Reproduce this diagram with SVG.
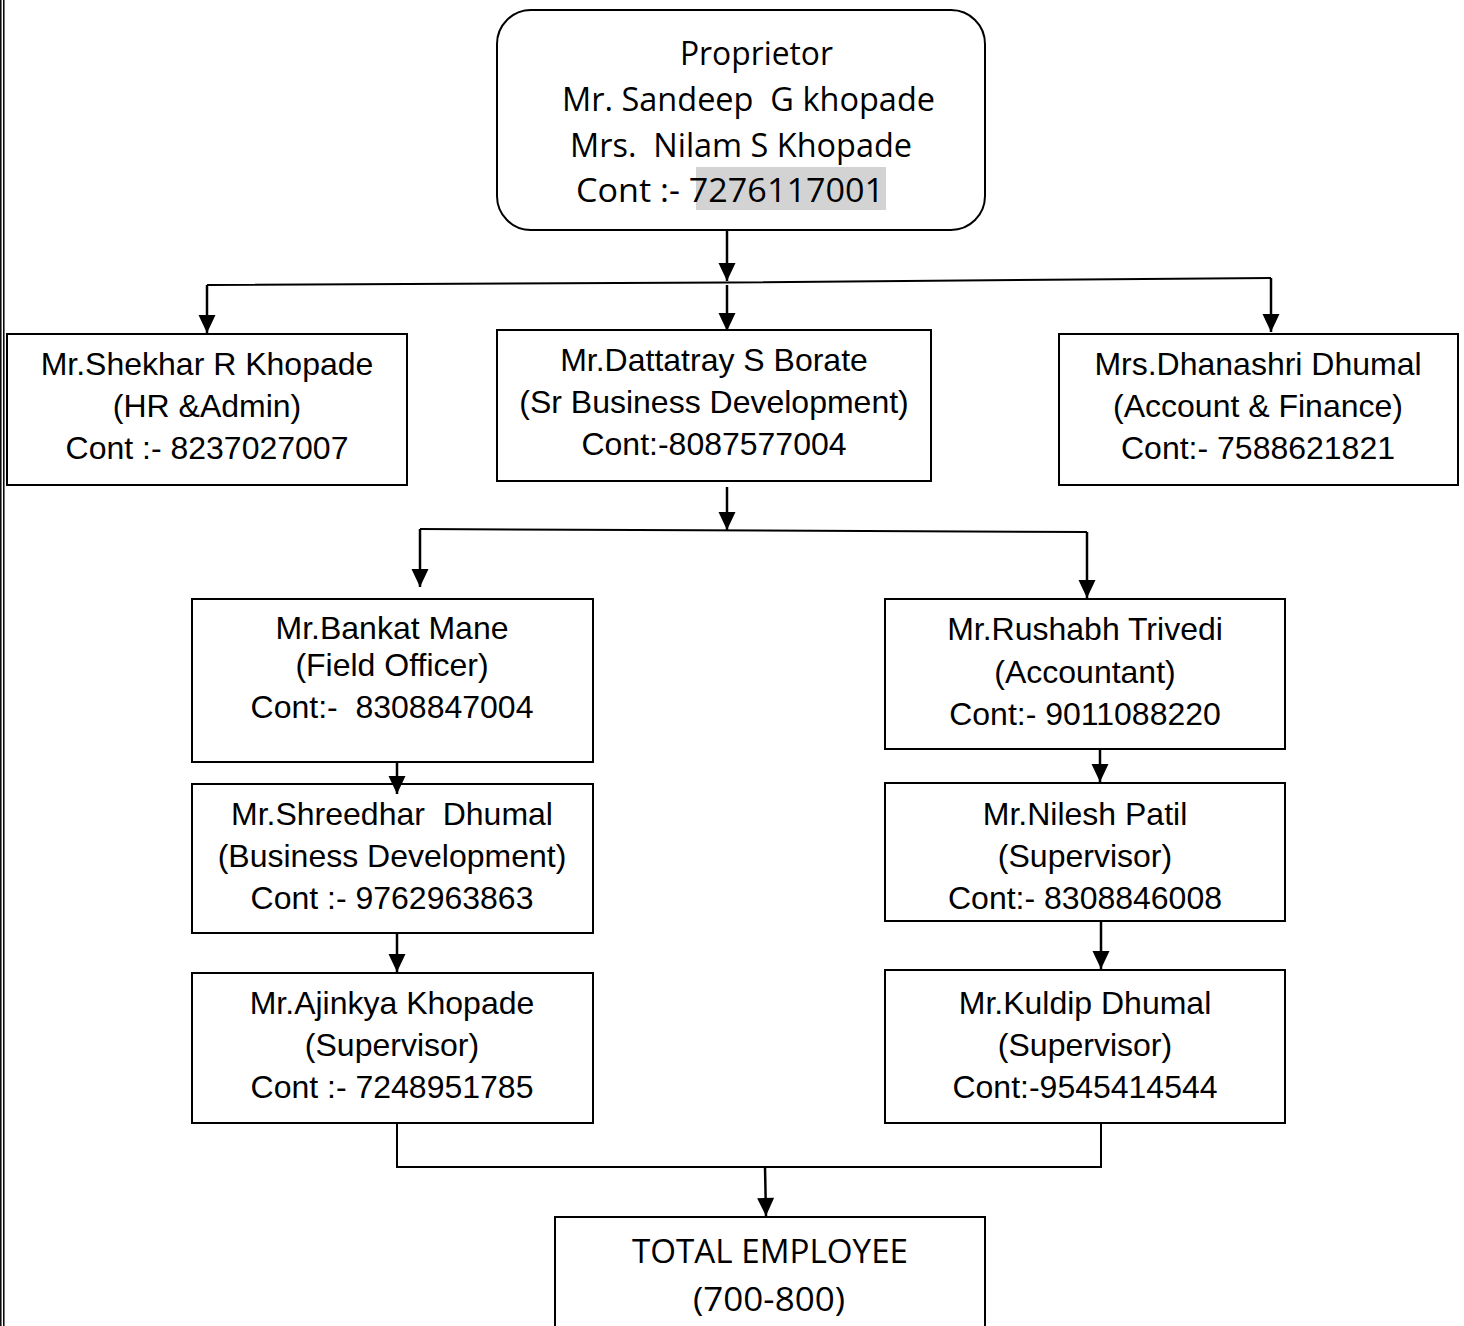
<svg xmlns="http://www.w3.org/2000/svg" width="1464" height="1326" viewBox="0 0 1464 1326">
<style>
.box{fill:#fff;stroke:#000;stroke-width:2}
.t{font-family:"Liberation Sans",Arial,sans-serif;font-size:32px;fill:#000;text-anchor:middle}
.c{font-family:"Open Sans","Noto Sans",sans-serif;font-size:33px;fill:#000}
.ln{fill:none;stroke:#000;stroke-width:2}
.ar{fill:none;stroke:#000;stroke-width:2.5;marker-end:url(#ah)}
</style>
<defs>
<marker id="ah" markerUnits="userSpaceOnUse" markerWidth="19" markerHeight="17" refX="18" refY="8.5" orient="auto" overflow="visible">
<path d="M0,0 L18,8.5 L0,17 z" fill="#000"/>
</marker>
</defs>
<rect width="1464" height="1326" fill="#fff"/>
<g id="page-border">
<line x1="0.8" y1="0" x2="0.8" y2="1326" stroke="#000" stroke-width="1.5"/>
<line x1="3.8" y1="0" x2="3.8" y2="1326" stroke="#000" stroke-width="1.5"/>
</g>
<g id="proprietor">
<rect class="box" x="497" y="10" width="488" height="220" rx="34"/>
<rect x="696" y="167" width="190" height="43" fill="#d3d3d3"/>
<text class="c" x="680" y="65" textLength="153" lengthAdjust="spacingAndGlyphs">Proprietor</text>
<text class="c" x="562" y="111" textLength="373" lengthAdjust="spacingAndGlyphs" xml:space="preserve">Mr. Sandeep  G khopade</text>
<text class="c" x="570" y="157" textLength="342" lengthAdjust="spacingAndGlyphs" xml:space="preserve">Mrs.  Nilam S Khopade</text>
<text class="c" x="576" y="202" textLength="308" lengthAdjust="spacingAndGlyphs">Cont :- 7276117001</text>
</g>
<g id="shekhar">
<rect class="box" x="7" y="334" width="400" height="151"/>
<text class="t" x="207" y="375">Mr.Shekhar R Khopade</text>
<text class="t" x="207" y="417">(HR &amp;Admin)</text>
<text class="t" x="207" y="459">Cont :- 8237027007</text>
</g>
<g id="dattatray">
<rect class="box" x="497" y="330" width="434" height="151"/>
<text class="t" x="714" y="371">Mr.Dattatray S Borate</text>
<text class="t" x="714" y="413">(Sr Business Development)</text>
<text class="t" x="714" y="455">Cont:-8087577004</text>
</g>
<g id="dhanashri">
<rect class="box" x="1059" y="334" width="399" height="151"/>
<text class="t" x="1258" y="375">Mrs.Dhanashri Dhumal</text>
<text class="t" x="1258" y="417">(Account &amp; Finance)</text>
<text class="t" x="1258" y="459">Cont:- 7588621821</text>
</g>
<g id="bankat">
<rect class="box" x="192" y="599" width="401" height="163"/>
<text class="t" x="392" y="639">Mr.Bankat Mane</text>
<text class="t" x="392" y="676">(Field Officer)</text>
<text class="t" x="392" y="718" xml:space="preserve">Cont:-  8308847004</text>
</g>
<g id="shreedhar">
<rect class="box" x="192" y="784" width="401" height="149"/>
<text class="t" x="392" y="825" xml:space="preserve">Mr.Shreedhar  Dhumal</text>
<text class="t" x="392" y="867">(Business Development)</text>
<text class="t" x="392" y="909">Cont :- 9762963863</text>
</g>
<g id="ajinkya">
<rect class="box" x="192" y="973" width="401" height="150"/>
<text class="t" x="392" y="1014">Mr.Ajinkya Khopade</text>
<text class="t" x="392" y="1056">(Supervisor)</text>
<text class="t" x="392" y="1098">Cont :- 7248951785</text>
</g>
<g id="rushabh">
<rect class="box" x="885" y="599" width="400" height="150"/>
<text class="t" x="1085" y="640">Mr.Rushabh Trivedi</text>
<text class="t" x="1085" y="683">(Accountant)</text>
<text class="t" x="1085" y="725">Cont:- 9011088220</text>
</g>
<g id="nilesh">
<rect class="box" x="885" y="783" width="400" height="138"/>
<text class="t" x="1085" y="825">Mr.Nilesh Patil</text>
<text class="t" x="1085" y="867">(Supervisor)</text>
<text class="t" x="1085" y="909">Cont:- 8308846008</text>
</g>
<g id="kuldip">
<rect class="box" x="885" y="970" width="400" height="153"/>
<text class="t" x="1085" y="1014">Mr.Kuldip Dhumal</text>
<text class="t" x="1085" y="1056">(Supervisor)</text>
<text class="t" x="1085" y="1098">Cont:-9545414544</text>
</g>
<g id="total">
<rect class="box" x="555" y="1217" width="430" height="130"/>
<text class="c" x="632" y="1263" textLength="276" lengthAdjust="spacingAndGlyphs">TOTAL EMPLOYEE</text>
<text class="c" x="693" y="1311" textLength="152" lengthAdjust="spacingAndGlyphs">(700-800)</text>
</g>
<g id="connectors">
<line class="ar" x1="727" y1="230" x2="727" y2="281"/>
<polyline class="ln" points="207,285 727,282.5 1271,278"/>
<line class="ar" x1="207" y1="285" x2="207" y2="333"/>
<line class="ar" x1="727" y1="285" x2="727" y2="331"/>
<line class="ar" x1="1271" y1="278" x2="1271" y2="332"/>
<line class="ar" x1="727" y1="487" x2="727" y2="530"/>
<line class="ln" x1="420" y1="529" x2="1087" y2="532"/>
<line class="ar" x1="420" y1="529" x2="420" y2="587"/>
<line class="ar" x1="1087" y1="532" x2="1087" y2="598"/>
<line class="ar" x1="397" y1="762" x2="397" y2="794"/>
<line class="ar" x1="397" y1="933" x2="397" y2="972"/>
<line class="ar" x1="1100" y1="749" x2="1100" y2="782"/>
<line class="ar" x1="1101" y1="921" x2="1101" y2="969"/>
<polyline class="ln" points="397,1123 397,1167 1101,1167 1101,1123"/>
<line class="ar" x1="765" y1="1167" x2="766" y2="1216"/>
</g>
</svg>
